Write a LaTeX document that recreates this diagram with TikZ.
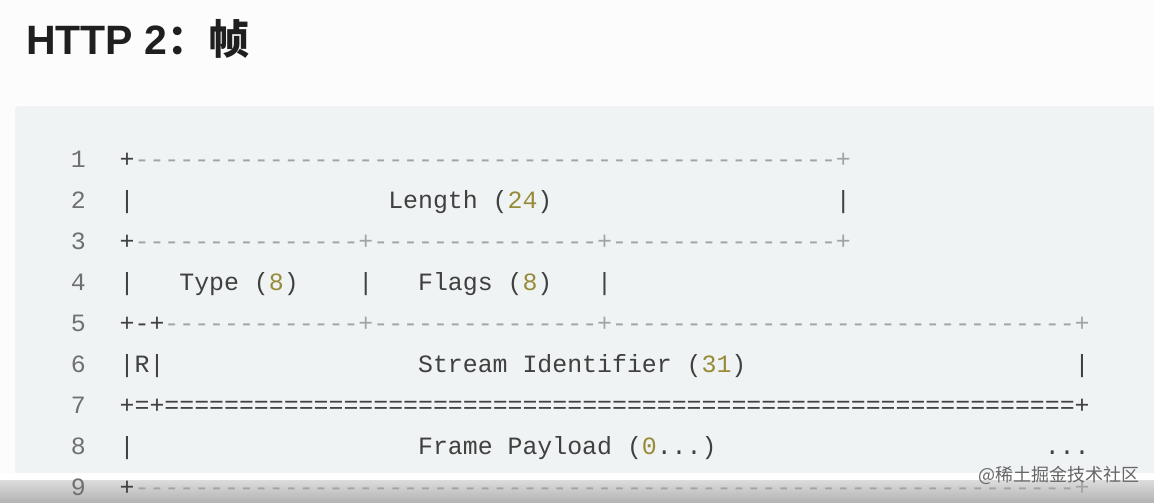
\documentclass[tikz,border=0pt]{standalone}
\usepackage{fontspec}
\setmonofont{Liberation Mono}
\newfontfamily\cjk{Noto Sans CJK SC}
\newfontfamily\titlefont{Liberation Sans}
\ExplSyntaxOn
\cs_new:Npn \myrep #1#2 { \prg_replicate:nn {#1} {#2} }
\ExplSyntaxOff
\definecolor{pagebg}{HTML}{FCFCFC}
\definecolor{codebg}{HTML}{F0F3F3}
\definecolor{txt}{HTML}{404040}
\definecolor{cmt}{HTML}{A2A4A4}
\definecolor{num}{HTML}{978B3A}
\definecolor{lnum}{HTML}{707070}
\definecolor{bandtop}{HTML}{DCDCDC}
\definecolor{bandbot}{HTML}{B2B2B2}
\begin{document}
\begin{tikzpicture}[x=1pt,y=-1pt,
  code/.style={anchor=base west,inner sep=0pt,font=\ttfamily\fontsize{24.87}{30}\selectfont,text=txt},
  gray/.style={code,text=cmt},
  gold/.style={code,text=num},
  lastrow/.style={text height=8pt,text depth=0pt},
  lno/.style={anchor=base east,inner sep=0pt,font=\ttfamily\fontsize{24.87}{30}\selectfont,text=lnum}]
\useasboundingbox (0,0) rectangle (1154,503);
\fill[pagebg] (0,0) rectangle (1154,503);
% code block
\fill[codebg,rounded corners=4pt] (15,106) rectangle (1170,490);
% bottom band
\fill[white] (0,473) rectangle (1154,480);
\shade[top color=bandtop,bottom color=bandbot] (0,480) rectangle (1154,503);
% title
\node[anchor=base west,inner sep=0pt,text=black!88] (title) at (26,55)
  {\fontsize{41}{48}\selectfont\bfseries\titlefont HTTP 2\cjk ：帧};
% line numbers
\foreach \r in {1,...,8}{
  \node[lno] (ln\r) at (86,{167+41*(\r-1)}) {\r};
}
\node[lno,lastrow] (ln9) at (86,495) {9};
% line 1
\node[code] (a1) at (119.5,167) {+};
\node[gray] (a2) at ({119.5+14.92*1},167) {\myrep{47}{-}+};
% line 2
\node[code] (b1) at (119.5,208) {|};
\node[code] (b2) at ({119.5+14.92*18},208) {Length (};
\node[gold] (b3) at ({119.5+14.92*26},208) {24};
\node[code] (b4) at ({119.5+14.92*28},208) {)};
\node[code] (b5) at ({119.5+14.92*48},208) {|};
% line 3
\node[code] (c1) at (119.5,249) {+};
\node[gray] (c2) at ({119.5+14.92*1},249) {\myrep{15}{-}+\myrep{15}{-}+\myrep{15}{-}+};
% line 4
\node[code] (d1) at (119.5,290) {|};
\node[code] (d2) at ({119.5+14.92*4},290) {Type (};
\node[gold] (d3) at ({119.5+14.92*10},290) {8};
\node[code] (d4) at ({119.5+14.92*11},290) {)};
\node[code] (d5) at ({119.5+14.92*16},290) {|};
\node[code] (d6) at ({119.5+14.92*20},290) {Flags (};
\node[gold] (d7) at ({119.5+14.92*27},290) {8};
\node[code] (d8) at ({119.5+14.92*28},290) {)};
\node[code] (d9) at ({119.5+14.92*32},290) {|};
% line 5
\node[code] (e1) at (119.5,331) {+-+};
\node[gray] (e2) at ({119.5+14.92*3},331) {\myrep{13}{-}+\myrep{15}{-}+\myrep{31}{-}+};
% line 6
\node[code] (f1) at (119.5,372) {|R|};
\node[code] (f2) at ({119.5+14.92*20},372) {Stream Identifier (};
\node[gold] (f3) at ({119.5+14.92*39},372) {31};
\node[code] (f4) at ({119.5+14.92*41},372) {)};
\node[code] (f5) at ({119.5+14.92*64},372) {|};
% line 7
\node[code] (g1) at (119.5,413) {+=+\myrep{61}{=}+};
% line 8
\node[code] (h1) at (119.5,454) {|};
\node[code] (h2) at ({119.5+14.92*20},454) {Frame Payload (};
\node[gold] (h3) at ({119.5+14.92*35},454) {0};
\node[code] (h4) at ({119.5+14.92*36},454) {...)};
\node[code] (h5) at ({119.5+14.92*62},454) {...};
% line 9
\node[code,lastrow] (i1) at (119.5,495) {+};
\node[gray,lastrow] (i2) at ({119.5+14.92*1},495) {\myrep{63}{-}+};
% watermark
\node[anchor=base west,inner sep=0pt,font=\cjk\fontsize{18}{20}\selectfont,text=black!60] (wm) at (978,481) {@稀土掘金技术社区};
\end{tikzpicture}
\end{document}
